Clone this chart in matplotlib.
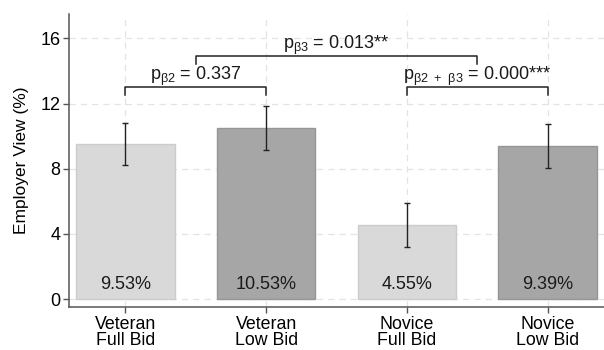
import numpy as np
import matplotlib.pyplot as plt

plt.rcParams['font.family'] = ['Liberation Sans', 'DejaVu Sans']
plt.rcParams['mathtext.fontset'] = 'custom'
plt.rcParams['mathtext.rm'] = 'Liberation Sans'

groups = ['Veteran\nFull Bid', 'Veteran\nLow Bid', 'Novice\nFull Bid', 'Novice\nLow Bid']
values = [9.53, 10.53, 4.55, 9.39]
ci_low = [8.25, 9.15, 3.2, 8.05]
ci_high = [10.8, 11.85, 5.9, 10.75]
labels = ['9.53%', '10.53%', '4.55%', '9.39%']
fills = ['#d9d9d9', '#a6a6a6', '#d9d9d9', '#a6a6a6']
edges = ['#cccccc', '#969696', '#cccccc', '#969696']

x = np.arange(1, 5)
v = np.array(values)
err = [v - np.array(ci_low), np.array(ci_high) - v]

fs = 13

fig = plt.figure(figsize=(6.04, 3.5), dpi=100)
ax = fig.add_axes([0.1142, 0.122, 0.8858, 0.838])

ax.set_axisbelow(True)
ax.grid(True, color='#e3e3e3', linestyle=(0, (5, 4)), linewidth=0.9)
ax.bar(x, v, width=0.7, color=fills, edgecolor=edges, linewidth=1.0, zorder=2)
ax.errorbar(x, v, yerr=err, fmt='none', ecolor='#222222', elinewidth=1.0,
            capsize=2.0, capthick=1.0, zorder=3)

for xi, lab in zip(x, labels):
    ax.text(xi, 0.6, lab, ha='center', va='baseline', fontsize=fs, color='#1a1a1a', zorder=4)

def bracket(x0, x1, y, leg, text):
    ax.plot([x0, x0, x1, x1], [y - leg, y, y, y - leg], color='#222222', lw=1.1, zorder=4)
    ax.text((x0 + x1) / 2, y + 0.48, text, ha='center', va='baseline', fontsize=fs, color='#1a1a1a')

bracket(1, 2, 13.0, 0.5, r'p$_{\mathregular{β2}}$ = 0.337')
bracket(3, 4, 13.0, 0.5, r'p$_{\mathregular{β2\ +\ β3}}$ = 0.000***')
bracket(1.5, 3.5, 14.9, 0.47, r'p$_{\mathregular{β3}}$ = 0.013**')

ax.set_xlim(0.6, 4.4)
ax.set_ylim(-0.5, 17.5)
ax.set_yticks([0, 4, 8, 12, 16])
ax.set_xticks(x)
ax.set_xticklabels(groups, fontsize=12.8, linespacing=0.98)
ax.tick_params(axis='y', labelsize=fs, length=4, color='#555555', width=1.0, pad=2)
ax.tick_params(axis='x', length=4, color='#555555', width=1.0, pad=2)
ax.set_ylabel('Employer View (%)', fontsize=12.5, labelpad=8)

for s in ['top', 'right']:
    ax.spines[s].set_visible(False)
for s in ['left', 'bottom']:
    ax.spines[s].set_color('#555555')
    ax.spines[s].set_linewidth(1.1)

fig.savefig('out.png', dpi=100)
